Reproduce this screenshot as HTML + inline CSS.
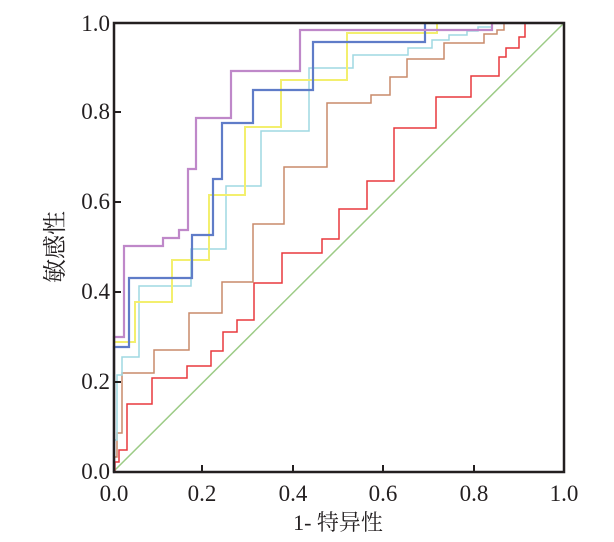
<!DOCTYPE html>
<html><head><meta charset="utf-8"><style>
body{margin:0;background:#fff}
svg{display:block}
text{font-family:"Liberation Serif","Noto Serif CJK SC",serif;font-size:23px;fill:#231f20}
</style></head><body>
<svg width="614" height="542" viewBox="0 0 614 542">
<g fill="none" stroke-width="1.6">
<line x1="113" y1="472" x2="564" y2="23" stroke="#9ccb86" stroke-width="1.5"/>
<polyline stroke="#e8383d" stroke-width="1.5" points="113,472 115,472 115,462 119,462 119,450 127,450 127,404 152,404 152,378 187,378 187,366 211,366 211,351 223,351 223,332 237,332 237,320 254,320 254,283 282,283 282,253 322,253 322,239 339,239 339,209 367,209 367,181 394,181 394,128 436,128 436,97 471,97 471,76 499,76 499,57 506,57 506,48 519,48 519,37 525,37 525,23"/>
<polyline stroke="#c98a6a" stroke-width="1.5" points="113,472 114,472 114,457 117,457 117,433 122,433 122,373 154,373 154,350 189,350 189,313 222,313 222,282 253,282 253,224 284,224 284,167 327,167 327,103 371,103 371,95 390,95 390,77 407,77 407,59 444,59 444,43 484,43 484,34 497,34 497,30 504,30 504,23"/>
<polyline stroke="#9fd8e2" stroke-width="1.5" points="113,472 114,472 114,440 117,440 117,375 122,375 122,357 139,357 139,286 191,286 191,249 226,249 226,186 261,186 261,131 309,131 309,68 353,68 353,55 408,55 408,48 432,48 432,40 449,40 449,35 467,35 467,31 478,31 478,27 492,27 492,23"/>
<polyline stroke="#f3ef6e" stroke-width="2" points="113,472 114,472 114,342 135,342 135,302 172,302 172,260 209,260 209,195 245,195 245,127 281,127 281,80 347,80 347,33 437,33 437,23"/>
<polyline stroke="#5f7cc8" stroke-width="2.2" points="113,472 114,472 114,347 129,347 129,278 192,278 192,235 213,235 213,179 222,179 222,123 253,123 253,90 313,90 313,42 425,42 425,23"/>
<polyline stroke="#bf88c9" stroke-width="2.2" points="113,472 114,472 114,337 124,337 124,246 163,246 163,238 179,238 179,230 188,230 188,169 196,169 196,118 231,118 231,71 300,71 300,30 492,30 492,23 564,23"/>
</g>
<g stroke="#231f20" stroke-width="2.5" fill="none">
<rect x="114" y="23" width="450" height="449"/>
</g>
<g stroke="#231f20" stroke-width="2">
<line x1="202" y1="472" x2="202" y2="465"/><line x1="293" y1="472" x2="293" y2="465"/><line x1="383" y1="472" x2="383" y2="465"/><line x1="474" y1="472" x2="474" y2="465"/>
<line x1="114" y1="112" x2="121" y2="112"/><line x1="114" y1="202" x2="121" y2="202"/><line x1="114" y1="292" x2="121" y2="292"/><line x1="114" y1="382" x2="121" y2="382"/>
</g>
<g text-anchor="end">
<text x="110" y="479">0.0</text><text x="110" y="389">0.2</text><text x="110" y="299">0.4</text><text x="110" y="209">0.6</text><text x="110" y="119">0.8</text><text x="110" y="31">1.0</text>
</g>
<g text-anchor="middle">
<text x="114" y="501">0.0</text><text x="202" y="501">0.2</text><text x="293" y="501">0.4</text><text x="383" y="501">0.6</text><text x="474" y="501">0.8</text><text x="564" y="501">1.0</text>
<text x="338" y="530" style="font-size:22px">1- 特异性</text>
<text transform="translate(63,247) rotate(-90)" style="font-size:24px">敏感性</text>
</g>
</svg>
</body></html>
